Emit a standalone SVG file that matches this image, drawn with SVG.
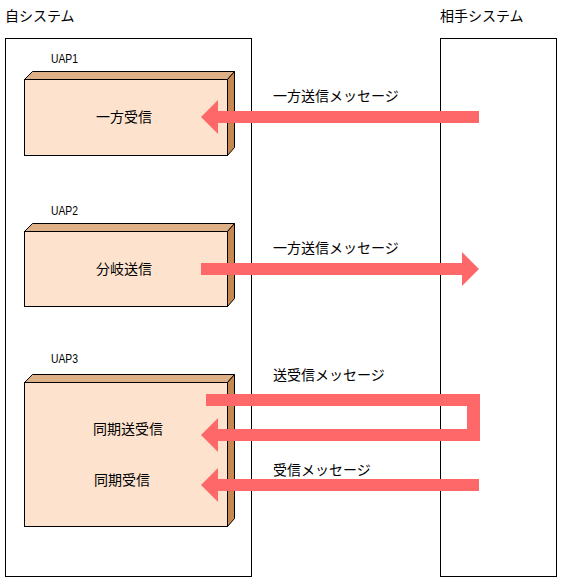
<svg xmlns="http://www.w3.org/2000/svg" width="570" height="580" viewBox="0 0 570 580">
<style>
text{font-family:"Noto Sans CJK JP","Liberation Sans",sans-serif;fill:#000;font-size:14px}
.sys{fill:#fff;stroke:#000;stroke-width:1}
.front{fill:#FDE3CE;stroke:#000;stroke-width:1}
.top{fill:#DEB088;stroke:#000;stroke-width:1}
.side{fill:#C68850;stroke:#000;stroke-width:1}
.arrow{fill:#FF6868;stroke:none}
.uap{font-family:"Liberation Sans",sans-serif;font-size:13px}
</style>
<rect width="570" height="580" fill="#fff"/>
<g id="self-system">
<rect class="sys" x="5.5" y="38.5" width="246" height="538"/>
<text x="5" y="21">自システム</text>
</g>
<g id="peer-system">
<rect class="sys" x="440.5" y="38.5" width="116" height="538"/>
<text x="440" y="21">相手システム</text>
</g>
<g id="uap1">
<text class="uap" x="51" y="63" textLength="27" lengthAdjust="spacingAndGlyphs">UAP1</text>
<polygon class="top" points="24.5,79.5 32.5,71.5 234.5,71.5 227.5,79.5"/>
<polygon class="side" points="227.5,79.5 234.5,71.5 234.5,147.5 227.5,155.5"/>
<rect class="front" x="24.5" y="79.5" width="203" height="76"/>
<text x="124" y="122" text-anchor="middle">一方受信</text>
</g>
<g id="uap2">
<text class="uap" x="51" y="215" textLength="27" lengthAdjust="spacingAndGlyphs">UAP2</text>
<polygon class="top" points="24.5,231.5 32.5,223.5 234.5,223.5 227.5,231.5"/>
<polygon class="side" points="227.5,231.5 234.5,223.5 234.5,298.5 227.5,306.5"/>
<rect class="front" x="24.5" y="231.5" width="203" height="75"/>
<text x="124" y="274" text-anchor="middle">分岐送信</text>
</g>
<g id="uap3">
<text class="uap" x="51" y="363" textLength="27" lengthAdjust="spacingAndGlyphs">UAP3</text>
<polygon class="top" points="24.5,382.5 32.5,374.5 234.5,374.5 227.5,382.5"/>
<polygon class="side" points="227.5,382.5 234.5,374.5 234.5,518.5 227.5,526.5"/>
<rect class="front" x="24.5" y="382.5" width="203" height="144"/>
<text x="128" y="434" text-anchor="middle">同期送受信</text>
<text x="122" y="485" text-anchor="middle">同期受信</text>
</g>
<g id="connectors">
<polygon class="arrow" points="201,117 218,100 218,111 479,111 479,123 218,123 218,134"/>
<text x="273" y="101">一方送信メッセージ</text>
<polygon class="arrow" points="201,263 462,263 462,252 479,269 462,286 462,275 201,275"/>
<text x="273" y="253">一方送信メッセージ</text>
<polygon class="arrow" points="206,394 480,394 480,441 218,441 218,452 201,435 218,418 218,429 467,429 467,406 206,406"/>
<text x="273" y="380">送受信メッセージ</text>
<polygon class="arrow" points="201,485 218,468 218,479 479,479 479,491 218,491 218,502"/>
<text x="273" y="475">受信メッセージ</text>
</g>
</svg>
